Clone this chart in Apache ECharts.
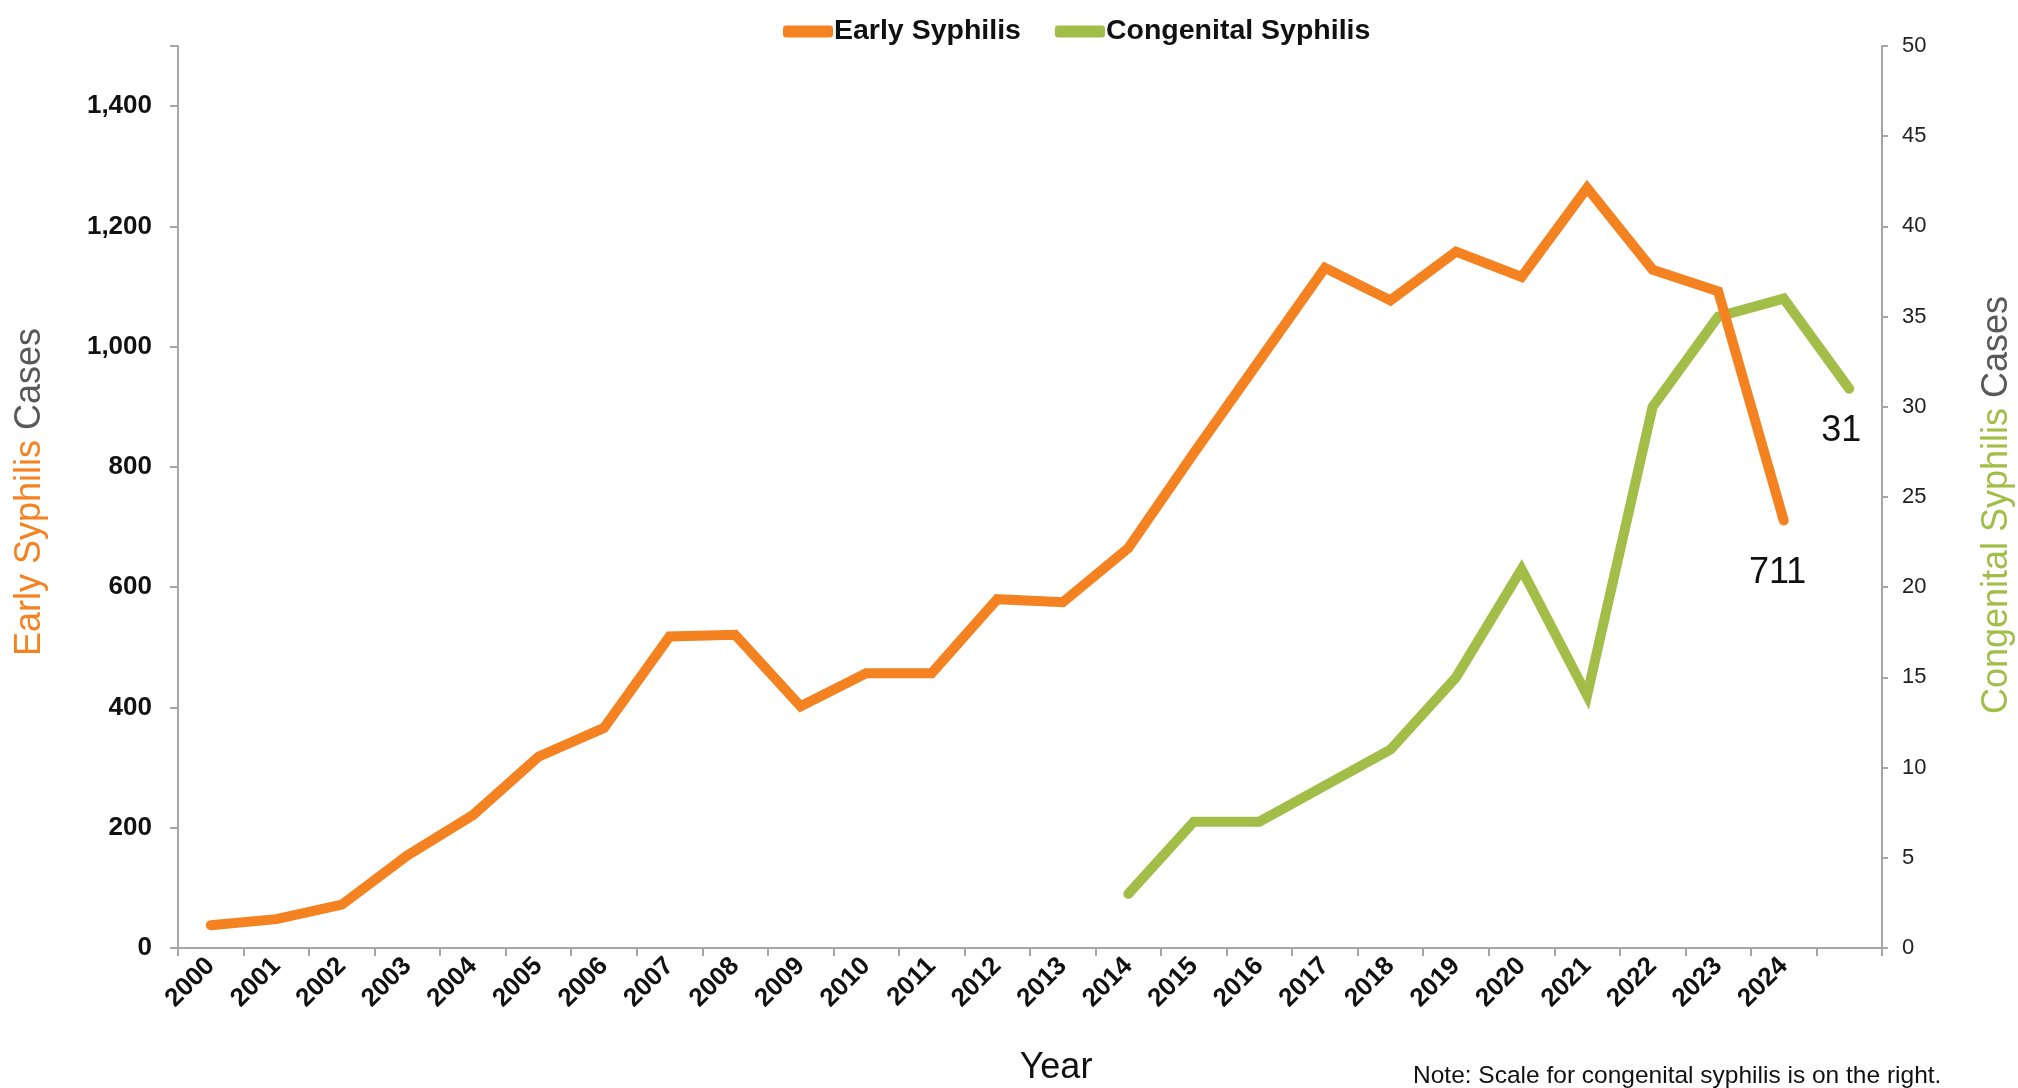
<!DOCTYPE html>
<html>
<head>
<meta charset="utf-8">
<script src="https://cdn.jsdelivr.net/npm/echarts@6/dist/echarts.min.js"></script>
<style>
  html, body { margin: 0; padding: 0; background: #fff; }
  #chart { width: 2018px; height: 1088px; }
</style>
</head>
<body>
<div id="chart"></div>
<script>
// years on the x axis (last slot has no label in the original)
const years = ['2000', '2001', '2002', '2003', '2004', '2005', '2006', '2007', '2008', '2009',
    '2010', '2011', '2012', '2013', '2014', '2015', '2016', '2017', '2018', '2019',
    '2020', '2021', '2022', '2023', '2024', ''];

const earlySyphilis = [38, 48, 72, 154, 221, 318, 366, 518, 521, 402, 457, 457, 580, 575,
    665, 823, 977, 1131, 1077, 1158, 1116, 1264, 1128, 1092, 711];

const congenitalSyphilis = [null, null, null, null, null, null, null, null, null, null, null, null, null, null,
    3, 7, 7, 9, 11, 15, 21, 14, 30, 35, 36, 31];

const leftTicks = [0, 200, 400, 600, 800, 1000, 1200, 1400];

const ORANGE = '#F58220';
const GREEN = '#A2BD48';
const FONT = "'Liberation Sans', Arial, sans-serif";

function withEndLabel(values, distance, offset) {
    let last = values.length - 1;
    while (last >= 0 && values[last] == null) last--;
    return values.map((v, i) => {
        if (i !== last) return v;
        return {
            value: v,
            label: {
                show: true,
                position: 'bottom',
                distance: distance,
                offset: offset,
                fontFamily: FONT,
                fontSize: 36,
                color: '#111'
            }
        };
    });
}

const chart = echarts.init(document.getElementById('chart'));

chart.setOption({
    animation: false,
    backgroundColor: '#fff',
    grid: { left: 178, right: 136, top: 46, bottom: 140, outerBoundsMode: 'none' },
    legend: {
        top: 12,
        left: 778,
        itemWidth: 50,
        itemHeight: 12,
        itemGap: 34,
        icon: 'roundRect',
        textStyle: { fontFamily: FONT, fontSize: 28.5, fontWeight: 'bold', color: '#111', padding: [0, 0, 0, -4] },
        data: ['Early Syphilis', 'Congenital Syphilis']
    },
    xAxis: {
        type: 'category',
        data: years,
        boundaryGap: true,
        axisLine: { lineStyle: { color: '#A6A6A6', width: 2 } },
        axisTick: { show: true, length: 8, lineStyle: { color: '#A6A6A6', width: 2 } },
        axisLabel: {
            interval: 0,
            rotate: 45,
            margin: 14,
            fontFamily: FONT,
            fontSize: 26,
            fontWeight: 'bold',
            color: '#111'
        },
        splitLine: { show: false }
    },
    yAxis: [
        {
            type: 'value',
            min: 0,
            max: 1500,
            interval: 200,
            axisLine: { show: true, lineStyle: { color: '#A6A6A6', width: 2 } },
            axisTick: { show: true, length: 8, lineStyle: { color: '#A6A6A6', width: 2 } },
            axisLabel: {
                margin: 26,
                fontFamily: FONT,
                fontSize: 26,
                fontWeight: 'bold',
                color: '#111',
                formatter: v => leftTicks.includes(v) ? v.toLocaleString('en-US') : ''
            },
            splitLine: { show: false }
        },
        {
            type: 'value',
            min: 0,
            max: 50,
            interval: 5,
            position: 'right',
            axisLine: { show: true, lineStyle: { color: '#A6A6A6', width: 2 } },
            axisTick: { show: true, length: 6, lineStyle: { color: '#A6A6A6', width: 2 } },
            axisLabel: {
                margin: 20,
                fontFamily: FONT,
                fontSize: 22,
                color: '#222'
            },
            splitLine: { show: false }
        }
    ],
    series: [
        {
            name: 'Early Syphilis',
            type: 'line',
            yAxisIndex: 0,
            data: withEndLabel(earlySyphilis, 34, [-6, 0]),
            symbol: 'circle',
            symbolSize: 1,
            itemStyle: { color: ORANGE },
            lineStyle: { color: ORANGE, width: 10, join: 'miter', cap: 'round' },
            z: 3
        },
        {
            name: 'Congenital Syphilis',
            type: 'line',
            yAxisIndex: 1,
            data: withEndLabel(congenitalSyphilis, 24, [-8, 0]),
            symbol: 'circle',
            symbolSize: 1,
            connectNulls: false,
            itemStyle: { color: GREEN },
            lineStyle: { color: GREEN, width: 10, join: 'miter', cap: 'round' },
            z: 2
        }
    ],
    graphic: [
        {
            type: 'text',
            x: 30,
            y: 492,
            rotation: Math.PI / 2,
            style: {
                text: '{o|Early Syphilis }{g|Cases}',
                align: 'center',
                verticalAlign: 'middle',
                rich: {
                    o: { fontFamily: FONT, fontSize: 36, fill: ORANGE },
                    g: { fontFamily: FONT, fontSize: 36, fill: '#595959' }
                }
            }
        },
        {
            type: 'text',
            x: 1997,
            y: 505,
            rotation: Math.PI / 2,
            style: {
                text: '{gr|Congenital Syphilis }{g|Cases}',
                align: 'center',
                verticalAlign: 'middle',
                rich: {
                    gr: { fontFamily: FONT, fontSize: 36, fill: GREEN },
                    g: { fontFamily: FONT, fontSize: 36, fill: '#595959' }
                }
            }
        },
        {
            type: 'text',
            x: 1056,
            y: 1068,
            style: {
                text: 'Year',
                align: 'center',
                verticalAlign: 'middle',
                fontFamily: FONT,
                fontSize: 36,
                fill: '#111'
            }
        },
        {
            type: 'text',
            x: 1413,
            y: 1076,
            style: {
                text: 'Note: Scale for congenital syphilis is on the right.',
                align: 'left',
                verticalAlign: 'middle',
                fontFamily: FONT,
                fontSize: 24.5,
                fill: '#111'
            }
        }
    ]
});
</script>
</body>
</html>
